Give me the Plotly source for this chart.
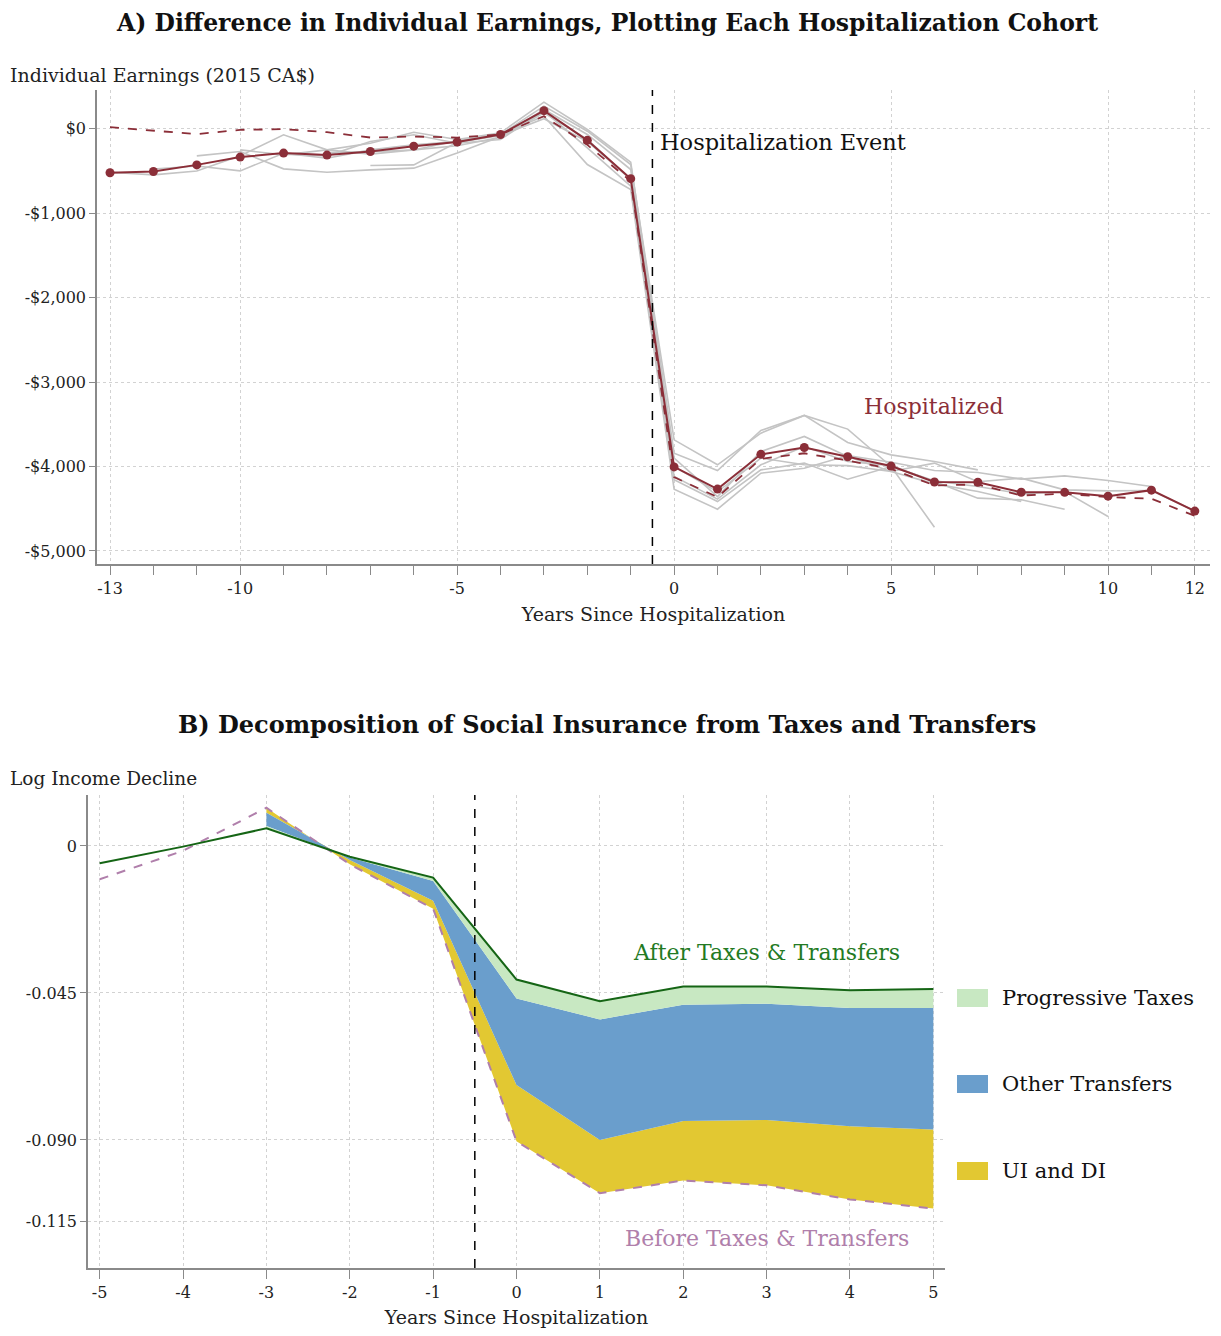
import plotly.graph_objects as go

# ---------------- Panel A data ----------------
years_a = list(range(-13, 13))
hosp_mean = [-520, -505, -427, -335, -287, -311, -268, -205, -156, -67, 215, -136, -590,
             -4005, -4268, -3856, -3775, -3885, -3995, -4184, -4187, -4305, -4306, -4351, -4280, -4528]
hosp_dashed = [20, -24, -63, -12, -4, -40, -103, -91, -103, -67, 150, -190, -620,
               -4126, -4362, -3909, -3843, -3929, -4028, -4224, -4213, -4343, -4323, -4362, -4382, -4585]

cohort_starts = [-13, -12, -11, -10, -9, -8, -7]
cohort_values = [
    [-514, -545, -500, -320, -71, -249, -170, -40, -126, -47, 316, -8, -395,
     -3842, -4047, -3573, -3395, -3557, -4000, -4719],
    [-475, -440, -498, -289, -348, -249, -190, -150, -70, 269, -28, -423,
     -3684, -3980, -3605, -3395, -3715, -3862, -3941, -4040],
    [-320, -269, -474, -514, -486, -466, -285, -90, 229, -67, -482,
     -3901, -4356, -3822, -3644, -3881, -4059, -4206, -4296, -4415],
    [-249, -308, -249, -300, -249, -200, -100, 190, -126, -600,
     -4119, -4387, -3980, -3763, -3941, -3990, -4178, -4375, -4395, -4506],
    [-300, -320, -150, -71, -170, -126, 210, -225, -680,
     -4158, -4415, -4040, -3960, -4150, -4000, -4170, -4237, -4324, -4296, -4593],
    [-280, -270, -250, -140, -60, 150, -423, -720,
     -4269, -4506, -4079, -4020, -3870, -3950, -4047, -4071, -4150, -4111, -4166, -4237],
    [-435, -427, -160, -80, 120, -150, -600,
     -4000, -4300, -3900, -3980, -3990, -4059, -3960, -4180, -4138, -4277, -4289, -4285, -4526],
]

ytick_a_vals = [0, -1000, -2000, -3000, -4000, -5000]
ytick_a_text = ["$0", "-$1,000", "-$2,000", "-$3,000", "-$4,000", "-$5,000"]
xtick_a_vals = [-13, -10, -5, 0, 5, 10, 12]
xtick_a_text = ["-13", "-10", "-5", "0", "5", "10", "12"]

# ---------------- Panel B data ----------------
years_b = list(range(-5, 6))
xtick_b_text = ["-5", "-4", "-3", "-2", "-1", "0", "1", "2", "3", "4", "5"]
before_tt = [-0.0102, -0.0015, 0.0117, -0.0056, -0.0192, -0.0904, -0.1063, -0.1024, -0.1039, -0.1082, -0.1110]
after_tt = [-0.0053, -0.0002, 0.0054, -0.0033, -0.0097, -0.0409, -0.0475, -0.0430, -0.0430, -0.0442, -0.0438]
years_fill = list(range(-3, 6))
ui_di = [-0.0015, 0.0013, 0.0024, 0.0172, 0.0163, 0.0182, 0.0200, 0.0224, 0.0242]
other_transfers = [-0.0041, 0.0008, 0.0061, 0.0265, 0.0369, 0.0356, 0.0356, 0.0362, 0.0372]

ytick_b_vals = [0, -0.045, -0.090, -0.115]
ytick_b_text = ["0", "-0.045", "-0.090", "-0.115"]

# ---------------- styles ----------------
FONT = "DejaVu Serif"
RED = "#8b2e38"
GRAY = "#c4c4c4"
GREEN_LINE = "#156515"
GREEN_TXT = "#237a23"
PURPLE = "#b07fab"
C_TAX = "#c8e8c2"
C_OTHER = "#6a9ecc"
C_UI = "#e2c832"
AXIS = "#8a8a8a"
GRID = "#d2d2d2"

fig = go.Figure()

# Panel A cohorts
for s, vals in zip(cohort_starts, cohort_values):
    xs = list(range(s, s + len(vals)))
    fig.add_trace(go.Scatter(x=xs, y=vals, mode="lines", line=dict(color=GRAY, width=1.6),
                             showlegend=False, hoverinfo="skip", xaxis="x", yaxis="y"))
fig.add_trace(go.Scatter(x=years_a, y=hosp_dashed, mode="lines",
                         line=dict(color=RED, width=1.8, dash="dash"),
                         showlegend=False, xaxis="x", yaxis="y"))
fig.add_trace(go.Scatter(x=years_a, y=hosp_mean, mode="lines+markers",
                         line=dict(color=RED, width=2), marker=dict(color=RED, size=9),
                         showlegend=False, xaxis="x", yaxis="y"))

# Panel B stacked components
bf = before_tt[2:]
ui_top = [b + u for b, u in zip(bf, ui_di)]
other_top = [u + o for u, o in zip(ui_top, other_transfers)]
af = after_tt[2:]
fig.add_trace(go.Scatter(x=years_fill, y=bf, mode="lines", line=dict(width=0, color=C_UI),
                         showlegend=False, hoverinfo="skip", xaxis="x2", yaxis="y2"))
fig.add_trace(go.Scatter(x=years_fill, y=ui_top, mode="lines", line=dict(width=0, color=C_UI),
                         fill="tonexty", fillcolor=C_UI, name="UI and DI",
                         showlegend=False, xaxis="x2", yaxis="y2"))
fig.add_trace(go.Scatter(x=years_fill, y=other_top, mode="lines", line=dict(width=0, color=C_OTHER),
                         fill="tonexty", fillcolor=C_OTHER, name="Other Transfers",
                         showlegend=False, xaxis="x2", yaxis="y2"))
fig.add_trace(go.Scatter(x=years_fill, y=af, mode="lines", line=dict(width=0, color=C_TAX),
                         fill="tonexty", fillcolor=C_TAX, name="Progressive Taxes",
                         showlegend=False, xaxis="x2", yaxis="y2"))
fig.add_trace(go.Scatter(x=years_b, y=before_tt, mode="lines",
                         line=dict(color=PURPLE, width=2, dash="dash"),
                         showlegend=False, xaxis="x2", yaxis="y2"))
fig.add_trace(go.Scatter(x=years_b, y=after_tt, mode="lines",
                         line=dict(color=GREEN_LINE, width=2),
                         showlegend=False, xaxis="x2", yaxis="y2"))

OFF = 8  # page body margin
W, H = 1205, 1320
def px(v):
    return (v - OFF) / W
def py(v):
    return 1 - (v - OFF) / H

axis_common = dict(showline=True, linecolor=AXIS, linewidth=1.5, ticks="outside", tickcolor=AXIS,
                   tickwidth=1, showgrid=True, gridcolor=GRID, griddash="dot", gridwidth=1,
                   zeroline=False, tickfont=dict(family=FONT, size=16, color="#222"))

fig.update_layout(
    width=W, height=H, margin=dict(l=0, r=0, t=0, b=0),
    plot_bgcolor="white", paper_bgcolor="white",
    font=dict(family=FONT, color="#222"),
    xaxis=dict(domain=[px(97), px(1210)], range=[-13.3, 12.35], anchor="y",
               tickmode="array", tickvals=xtick_a_vals, ticktext=xtick_a_text, ticklen=9,
               minor=dict(tickmode="linear", tick0=0, dtick=1, ticks="outside", ticklen=9,
                          tickcolor=AXIS, showgrid=False),
               title=dict(text="Years Since Hospitalization", font=dict(family=FONT, size=19), standoff=11),
               **axis_common),
    yaxis=dict(domain=[py(564), py(90)], range=[-5155, 460], anchor="x",
               tickmode="array", tickvals=ytick_a_vals, ticktext=ytick_a_text, ticklen=6,
               **axis_common),
    xaxis2=dict(domain=[px(88), px(945)], range=[-5.14, 5.14], anchor="y2",
                tickmode="array", tickvals=years_b, ticktext=xtick_b_text, ticklen=9,
                title=dict(text="Years Since Hospitalization", font=dict(family=FONT, size=19), standoff=11),
                **axis_common),
    yaxis2=dict(domain=[py(1268), py(795)], range=[-0.1292, 0.0156], anchor="x2",
                tickmode="array", tickvals=ytick_b_vals, ticktext=ytick_b_text, ticklen=6,
                **axis_common),
)

# event lines
fig.add_shape(type="line", xref="x", yref="y domain", x0=-0.5, x1=-0.5, y0=0, y1=1,
              line=dict(color="black", width=1.5, dash="dash"))
fig.add_shape(type="line", xref="x2", yref="y2 domain", x0=-0.5, x1=-0.5, y0=0, y1=1,
              line=dict(color="black", width=1.5, dash="dash"))

# titles
fig.add_annotation(text="<b>A) Difference in Individual Earnings, Plotting Each Hospitalization Cohort</b>",
                   xref="paper", yref="paper", x=px(607), y=1.0, showarrow=False,
                   font=dict(family=FONT, size=23.5, color="#111"), xanchor="center", yanchor="top",
                   borderpad=0)
fig.add_annotation(text="<b>B) Decomposition of Social Insurance from Taxes and Transfers</b>",
                   xref="paper", yref="paper", x=px(607), y=py(724), showarrow=False,
                   font=dict(family=FONT, size=24, color="#111"), xanchor="center", yanchor="middle")
fig.add_annotation(text="Individual Earnings (2015 CA$)", xref="paper", yref="paper",
                   x=px(8), y=py(75), showarrow=False, xanchor="left", yanchor="middle",
                   font=dict(family=FONT, size=19, color="#222"))
fig.add_annotation(text="Log Income Decline", xref="paper", yref="paper",
                   x=px(8), y=py(778), showarrow=False, xanchor="left", yanchor="middle",
                   font=dict(family=FONT, size=18.5, color="#222"))

# panel A labels
fig.add_annotation(text="Hospitalization Event", xref="x", yref="y", x=-0.38, y=-154,
                   showarrow=False, xanchor="left", yanchor="middle",
                   font=dict(family=FONT, size=22.5, color="#111"))
fig.add_annotation(text="Hospitalized", xref="x", yref="y", x=6.0, y=-3294,
                   showarrow=False, xanchor="center", yanchor="middle",
                   font=dict(family=FONT, size=22, color=RED))

# panel B labels
fig.add_annotation(text="After Taxes &amp; Transfers", xref="x2", yref="y2", x=3.0, y=-0.0327,
                   showarrow=False, xanchor="center", yanchor="middle",
                   font=dict(family=FONT, size=22, color=GREEN_TXT))
fig.add_annotation(text="Before Taxes &amp; Transfers", xref="x2", yref="y2", x=3.0, y=-0.1203,
                   showarrow=False, xanchor="center", yanchor="middle",
                   font=dict(family=FONT, size=22, color=PURPLE))

# manual legend
legend_items = [("Progressive Taxes", C_TAX, 998), ("Other Transfers", C_OTHER, 1084), ("UI and DI", C_UI, 1171)]
for label, col, yc in legend_items:
    fig.add_shape(type="rect", xref="paper", yref="paper", x0=px(957), x1=px(988),
                  y0=py(yc + 9), y1=py(yc - 9), fillcolor=col, line=dict(width=0))
    fig.add_annotation(text=label, xref="paper", yref="paper", x=px(1000), y=py(yc),
                       showarrow=False, xanchor="left", yanchor="middle",
                       font=dict(family=FONT, size=21, color="#111"))

fig.write_html("out.html")
